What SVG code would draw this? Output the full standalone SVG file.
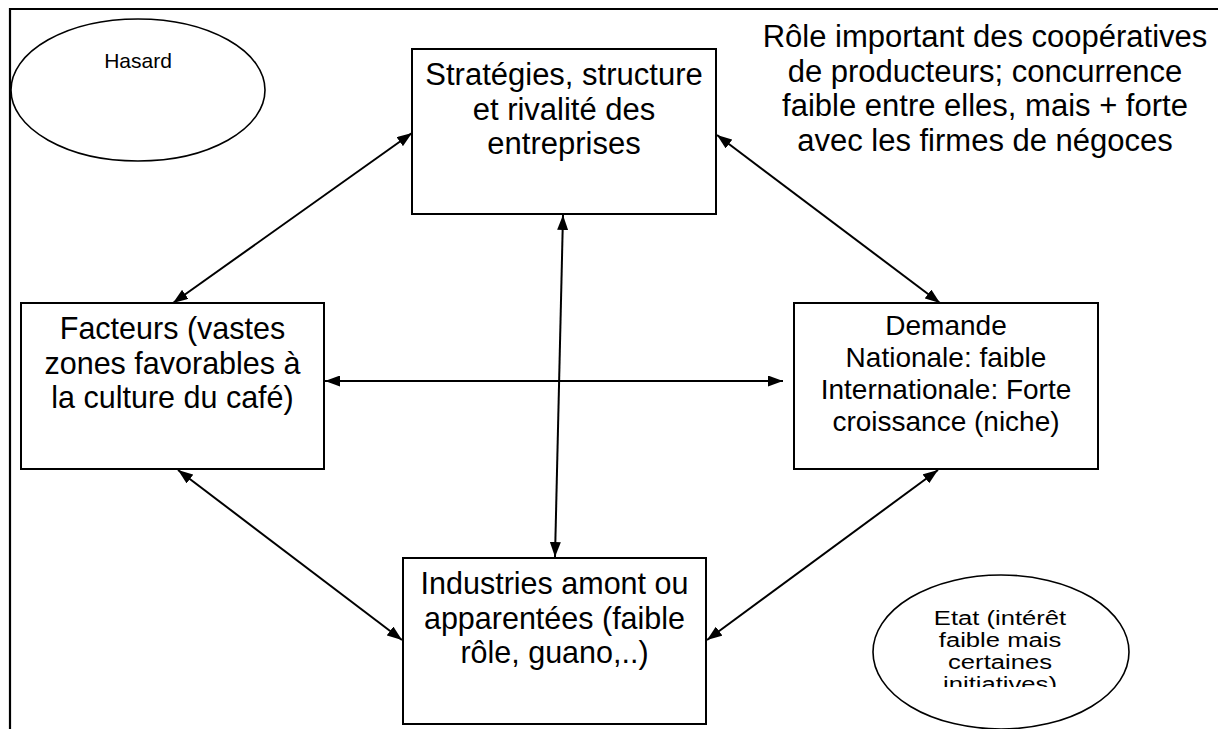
<svg xmlns="http://www.w3.org/2000/svg" width="1218" height="729" viewBox="0 0 1218 729">
<style>
.box{fill:#fff;stroke:#000;stroke-width:2}
.ell{fill:#fff;stroke:#000;stroke-width:1.6}
.big{font-family:"Liberation Sans",Arial,sans-serif;font-size:31px;fill:#000;text-anchor:middle}
.b2{font-family:"Liberation Sans",Arial,sans-serif;font-size:30.5px;fill:#000;text-anchor:middle}
.mid{font-family:"Liberation Sans",Arial,sans-serif;font-size:28px;fill:#000;text-anchor:middle}
.sm{font-family:"Liberation Sans",Arial,sans-serif;font-size:21px;fill:#000;text-anchor:middle}
.con{stroke:#000;stroke-width:2;fill:none;marker-start:url(#ah);marker-end:url(#ah)}
</style>
<defs>
<marker id="ah" viewBox="0 0 15 11" refX="15" refY="5.5" markerWidth="15" markerHeight="11" markerUnits="userSpaceOnUse" orient="auto-start-reverse">
<path d="M0,0 L15,5.5 L0,11 Z" fill="#000"/>
</marker>
<clipPath id="etatclip"><rect x="860" y="560" width="290" height="127"/></clipPath>
</defs>
<rect width="1218" height="729" fill="#fff"/>
<g id="frame">
<line x1="9" y1="9" x2="1218" y2="9" stroke="#000" stroke-width="2.2"/>
<line x1="10" y1="8" x2="10" y2="729" stroke="#000" stroke-width="2.2"/>
</g>
<g id="hasard">
<ellipse class="ell" cx="138" cy="90" rx="127" ry="71"/>
<text class="sm" x="138" y="68">Hasard</text>
</g>
<g id="role">
<text class="big" x="985" y="47">Rôle important des coopératives</text>
<text class="big" x="985" y="81.5">de producteurs; concurrence</text>
<text class="big" x="985" y="116">faible entre elles, mais + forte</text>
<text class="big" x="985" y="150.5">avec les firmes de négoces</text>
</g>
<g id="strategies">
<rect class="box" x="412" y="49" width="304" height="165"/>
<text class="big" x="564" y="85">Stratégies, structure</text>
<text class="big" x="564" y="119.5">et rivalité des</text>
<text class="big" x="564" y="154">entreprises</text>
</g>
<g id="facteurs">
<rect class="box" x="21" y="303" width="303" height="166"/>
<text class="b2" x="172.5" y="339">Facteurs (vastes</text>
<text class="b2" x="172.5" y="373.5">zones favorables à</text>
<text class="b2" x="172.5" y="408">la culture du café)</text>
</g>
<g id="demande">
<rect class="box" x="794" y="303" width="304" height="166"/>
<text class="mid" x="946" y="335">Demande</text>
<text class="mid" x="946" y="367">Nationale: faible</text>
<text class="mid" x="946" y="399">Internationale: Forte</text>
<text class="mid" x="946" y="431">croissance (niche)</text>
</g>
<g id="industries">
<rect class="box" x="403" y="558" width="303" height="166"/>
<text class="b2" x="554.5" y="594">Industries amont ou</text>
<text class="b2" x="554.5" y="628.5">apparentées (faible</text>
<text class="b2" x="554.5" y="663">rôle, guano,..)</text>
</g>
<g id="etat">
<ellipse class="ell" cx="1001" cy="652" rx="128" ry="77"/>
<g clip-path="url(#etatclip)">
<g transform="translate(1000,0) scale(1.22,1)">
<text class="sm" x="0" y="625">Etat (intérêt</text>
<text class="sm" x="0" y="647">faible mais</text>
<text class="sm" x="0" y="669">certaines</text>
<text class="sm" x="0" y="691">initiatives)</text>
</g>
</g>
</g>
<g id="connectors">
<line class="con" x1="173" y1="303" x2="412" y2="133"/>
<line class="con" x1="717" y1="135" x2="940" y2="303"/>
<line class="con" x1="563" y1="215" x2="555" y2="557"/>
<line class="con" x1="325" y1="381" x2="783" y2="381"/>
<line class="con" x1="178" y1="470" x2="402" y2="640"/>
<line class="con" x1="938" y1="470" x2="707" y2="640"/>
</g>
</svg>
